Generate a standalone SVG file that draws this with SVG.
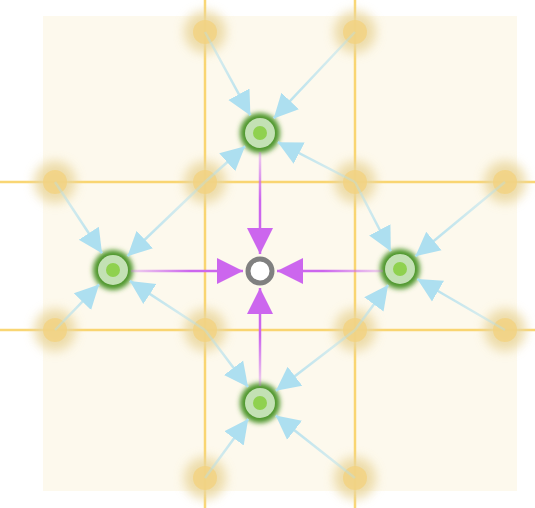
<svg xmlns="http://www.w3.org/2000/svg" width="535" height="508" viewBox="0 0 535 508">
<style>
.grid{stroke:#f9cf5c;stroke-width:2.5;opacity:0.85}
.halo{fill:#ead79e;opacity:0.85;filter:url(#blurY)}
.dot{fill:#f3d27e;opacity:0.75}
.blue{stroke-width:2.5;fill:none;marker-end:url(#ab)}
.mag{stroke-width:2.5;fill:none;marker-end:url(#am)}
.gglow{fill:#4e962c;filter:url(#blurG)}
.gring{fill:#c3e1b4}
.gcore{fill:#8fd14f}
.s0{stop-color:#b3e0ee;stop-opacity:0.35}
.s1{stop-color:#b0dfee;stop-opacity:1}
</style>
<defs>
<filter id="blurY" x="-60%" y="-60%" width="220%" height="220%"><feGaussianBlur stdDeviation="5.5"/></filter>
<filter id="blurG" x="-50%" y="-50%" width="200%" height="200%"><feGaussianBlur stdDeviation="2.5"/></filter>
<marker id="ab" viewBox="0 0 10 10" refX="10" refY="5" markerUnits="userSpaceOnUse" markerWidth="24" markerHeight="26" orient="auto"><path d="M0,0 L10,5 L0,10 Z" fill="#addff0"/></marker>
<marker id="am" viewBox="0 0 10 10" refX="10" refY="5" markerUnits="userSpaceOnUse" markerWidth="26" markerHeight="26" orient="auto"><path d="M0,0 L10,5 L0,10 Z" fill="#cc66ee"/></marker>
<linearGradient id="mT" gradientUnits="userSpaceOnUse" x1="260" y1="150" x2="260" y2="200"><stop offset="0" stop-color="#cc66ee" stop-opacity="0.25"/><stop offset="1" stop-color="#cc66ee"/></linearGradient>
<linearGradient id="mB" gradientUnits="userSpaceOnUse" x1="260" y1="386" x2="260" y2="336"><stop offset="0" stop-color="#cc66ee" stop-opacity="0.25"/><stop offset="1" stop-color="#cc66ee"/></linearGradient>
<linearGradient id="mL" gradientUnits="userSpaceOnUse" x1="130" y1="271" x2="190" y2="271"><stop offset="0" stop-color="#cc66ee" stop-opacity="0.25"/><stop offset="1" stop-color="#cc66ee"/></linearGradient>
<linearGradient id="mR" gradientUnits="userSpaceOnUse" x1="383" y1="271" x2="323" y2="271"><stop offset="0" stop-color="#cc66ee" stop-opacity="0.25"/><stop offset="1" stop-color="#cc66ee"/></linearGradient>
<linearGradient id="b1" gradientUnits="userSpaceOnUse" x1="205" y1="32" x2="250.4" y2="115.4"><stop offset="0" class="s0"/><stop offset="1" class="s1"/></linearGradient>
<linearGradient id="b2" gradientUnits="userSpaceOnUse" x1="355" y1="32" x2="273.7" y2="118.4"><stop offset="0" class="s0"/><stop offset="1" class="s1"/></linearGradient>
<linearGradient id="b3" gradientUnits="userSpaceOnUse" x1="205" y1="182" x2="245.1" y2="146.3"><stop offset="0" class="s0"/><stop offset="1" class="s1"/></linearGradient>
<linearGradient id="b4" gradientUnits="userSpaceOnUse" x1="355" y1="182" x2="277.8" y2="142.2"><stop offset="0" class="s0"/><stop offset="1" class="s1"/></linearGradient>
<linearGradient id="b5" gradientUnits="userSpaceOnUse" x1="55" y1="182" x2="102" y2="253.3"><stop offset="0" class="s0"/><stop offset="1" class="s1"/></linearGradient>
<linearGradient id="b6" gradientUnits="userSpaceOnUse" x1="205" y1="182" x2="127.5" y2="256.2"><stop offset="0" class="s0"/><stop offset="1" class="s1"/></linearGradient>
<linearGradient id="b7" gradientUnits="userSpaceOnUse" x1="55" y1="330" x2="99.1" y2="284.4"><stop offset="0" class="s0"/><stop offset="1" class="s1"/></linearGradient>
<linearGradient id="b8" gradientUnits="userSpaceOnUse" x1="205" y1="330" x2="129.8" y2="280.9"><stop offset="0" class="s0"/><stop offset="1" class="s1"/></linearGradient>
<linearGradient id="b9" gradientUnits="userSpaceOnUse" x1="355" y1="182" x2="390.8" y2="251.2"><stop offset="0" class="s0"/><stop offset="1" class="s1"/></linearGradient>
<linearGradient id="b10" gradientUnits="userSpaceOnUse" x1="505" y1="182" x2="415.4" y2="256.2"><stop offset="0" class="s0"/><stop offset="1" class="s1"/></linearGradient>
<linearGradient id="b11" gradientUnits="userSpaceOnUse" x1="355" y1="330" x2="388.1" y2="285.1"><stop offset="0" class="s0"/><stop offset="1" class="s1"/></linearGradient>
<linearGradient id="b12" gradientUnits="userSpaceOnUse" x1="505" y1="330" x2="417.3" y2="279"><stop offset="0" class="s0"/><stop offset="1" class="s1"/></linearGradient>
<linearGradient id="b13" gradientUnits="userSpaceOnUse" x1="205" y1="330" x2="248" y2="387"><stop offset="0" class="s0"/><stop offset="1" class="s1"/></linearGradient>
<linearGradient id="b14" gradientUnits="userSpaceOnUse" x1="355" y1="330" x2="275.9" y2="390.8"><stop offset="0" class="s0"/><stop offset="1" class="s1"/></linearGradient>
<linearGradient id="b15" gradientUnits="userSpaceOnUse" x1="205" y1="478" x2="248.2" y2="419.1"><stop offset="0" class="s0"/><stop offset="1" class="s1"/></linearGradient>
<linearGradient id="b16" gradientUnits="userSpaceOnUse" x1="355" y1="478" x2="275.7" y2="415.4"><stop offset="0" class="s0"/><stop offset="1" class="s1"/></linearGradient>
</defs>
<rect x="43" y="16" width="474" height="475" fill="#fdf9ed"/>
<g id="gridlines">
<line class="grid" x1="205" y1="0" x2="205" y2="508"/>
<line class="grid" x1="355" y1="0" x2="355" y2="508"/>
<line class="grid" x1="0" y1="182" x2="535" y2="182"/>
<line class="grid" x1="0" y1="330" x2="535" y2="330"/>
</g>
<g id="sources">
<g id="s1"><circle class="halo" cx="205" cy="32" r="21"/><circle class="dot" cx="205" cy="32" r="12"/></g>
<g id="s2"><circle class="halo" cx="355" cy="32" r="21"/><circle class="dot" cx="355" cy="32" r="12"/></g>
<g id="s3"><circle class="halo" cx="55" cy="182" r="21"/><circle class="dot" cx="55" cy="182" r="12"/></g>
<g id="s4"><circle class="halo" cx="205" cy="182" r="21"/><circle class="dot" cx="205" cy="182" r="12"/></g>
<g id="s5"><circle class="halo" cx="355" cy="182" r="21"/><circle class="dot" cx="355" cy="182" r="12"/></g>
<g id="s6"><circle class="halo" cx="505" cy="182" r="21"/><circle class="dot" cx="505" cy="182" r="12"/></g>
<g id="s7"><circle class="halo" cx="55" cy="330" r="21"/><circle class="dot" cx="55" cy="330" r="12"/></g>
<g id="s8"><circle class="halo" cx="205" cy="330" r="21"/><circle class="dot" cx="205" cy="330" r="12"/></g>
<g id="s9"><circle class="halo" cx="355" cy="330" r="21"/><circle class="dot" cx="355" cy="330" r="12"/></g>
<g id="s10"><circle class="halo" cx="505" cy="330" r="21"/><circle class="dot" cx="505" cy="330" r="12"/></g>
<g id="s11"><circle class="halo" cx="205" cy="478" r="21"/><circle class="dot" cx="205" cy="478" r="12"/></g>
<g id="s12"><circle class="halo" cx="355" cy="478" r="21"/><circle class="dot" cx="355" cy="478" r="12"/></g>
</g>
<g id="nodeT"><circle class="gglow" cx="260" cy="133" r="20"/><circle class="gring" cx="260" cy="133" r="15"/><circle class="gcore" cx="260" cy="133" r="7"/></g>
<g id="nodeL"><circle class="gglow" cx="113" cy="270" r="20"/><circle class="gring" cx="113" cy="270" r="15"/><circle class="gcore" cx="113" cy="270" r="7"/></g>
<g id="nodeR"><circle class="gglow" cx="400" cy="269" r="20"/><circle class="gring" cx="400" cy="269" r="15"/><circle class="gcore" cx="400" cy="269" r="7"/></g>
<g id="nodeB"><circle class="gglow" cx="260" cy="403" r="20"/><circle class="gring" cx="260" cy="403" r="15"/><circle class="gcore" cx="260" cy="403" r="7"/></g>
<g id="connectors">
<line class="blue" stroke="url(#b1)" x1="205" y1="32" x2="250.4" y2="115.4"/>
<line class="blue" stroke="url(#b2)" x1="355" y1="32" x2="273.7" y2="118.4"/>
<line class="blue" stroke="url(#b3)" x1="205" y1="182" x2="245.1" y2="146.3"/>
<line class="blue" stroke="url(#b4)" x1="355" y1="182" x2="277.8" y2="142.2"/>
<line class="blue" stroke="url(#b5)" x1="55" y1="182" x2="102" y2="253.3"/>
<line class="blue" stroke="url(#b6)" x1="205" y1="182" x2="127.5" y2="256.2"/>
<line class="blue" stroke="url(#b7)" x1="55" y1="330" x2="99.1" y2="284.4"/>
<line class="blue" stroke="url(#b8)" x1="205" y1="330" x2="129.8" y2="280.9"/>
<line class="blue" stroke="url(#b9)" x1="355" y1="182" x2="390.8" y2="251.2"/>
<line class="blue" stroke="url(#b10)" x1="505" y1="182" x2="415.4" y2="256.2"/>
<line class="blue" stroke="url(#b11)" x1="355" y1="330" x2="388.1" y2="285.1"/>
<line class="blue" stroke="url(#b12)" x1="505" y1="330" x2="417.3" y2="279"/>
<line class="blue" stroke="url(#b13)" x1="205" y1="330" x2="248" y2="387"/>
<line class="blue" stroke="url(#b14)" x1="355" y1="330" x2="275.9" y2="390.8"/>
<line class="blue" stroke="url(#b15)" x1="205" y1="478" x2="248.2" y2="419.1"/>
<line class="blue" stroke="url(#b16)" x1="355" y1="478" x2="275.7" y2="415.4"/>
<line class="mag" stroke="url(#mT)" x1="260" y1="152" x2="260" y2="254"/>
<line class="mag" stroke="url(#mB)" x1="260" y1="386" x2="260" y2="288"/>
<line class="mag" stroke="url(#mL)" x1="131" y1="271" x2="243" y2="271"/>
<line class="mag" stroke="url(#mR)" x1="383" y1="271" x2="277" y2="271"/>
</g>
<g id="center"><circle cx="260" cy="271" r="12" fill="#ffffff" stroke="#808080" stroke-width="5"/></g>
</svg>
